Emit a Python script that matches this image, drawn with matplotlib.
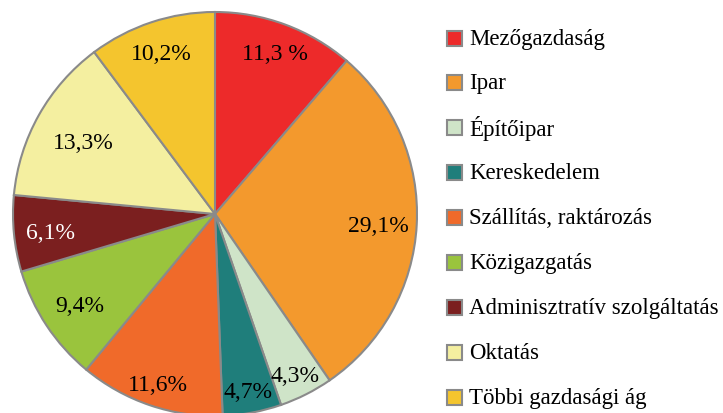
import numpy as np
import matplotlib.pyplot as plt
from matplotlib.patches import Rectangle

categories = [
    "Mezőgazdaság",
    "Ipar",
    "Építőipar",
    "Kereskedelem",
    "Szállítás, raktározás",
    "Közigazgatás",
    "Adminisztratív szolgáltatás",
    "Oktatás",
    "Többi gazdasági ág",
]
shares = [11.3, 29.1, 4.3, 4.7, 11.6, 9.4, 6.1, 13.3, 10.2]
pct_labels = ["11,3 %", "29,1%", "4,3%", "4,7%", "11,6%", "9,4%", "6,1%", "13,3%", "10,2%"]
colors = ["#ED2A2A", "#F3992D", "#CFE4C8", "#1F7E7B", "#F06A2A",
          "#9AC43D", "#7B1F1F", "#F4EFA0", "#F4C52E"]
label_colors = ["black"] * 6 + ["white"] + ["black"] * 2
# how far out each percentage sits, as a fraction of the radius
label_radius = [0.86, 0.81, 0.88, 0.88, 0.88, 0.80, 0.82, 0.75, 0.85]

plt.rcParams["font.family"] = ["Liberation Serif", "DejaVu Serif"]

W, H = 723, 414
fig = plt.figure(figsize=(W / 100, H / 100), dpi=100)

# pie centre (215, 215) px from top-left, radius 202 px
cx, cy, r = 215, 215, 202
half = r * 1.01
ax = fig.add_axes([(cx - half) / W, (H - cy - half) / H, 2 * half / W, 2 * half / H])
wedges, texts = ax.pie(
    shares,
    labels=pct_labels,
    colors=colors,
    startangle=90,
    counterclock=False,
    wedgeprops=dict(edgecolor="#8A8A8A", linewidth=1.5),
    textprops=dict(fontsize=17),
)
for w, t, c, d in zip(wedges, texts, label_colors, label_radius):
    ang = np.deg2rad((w.theta1 + w.theta2) / 2)
    t.set_position((d * np.cos(ang), d * np.sin(ang)))
    t.set_ha("center")
    t.set_va("center_baseline")
    t.set_color(c)
ax.set_xlim(-1.01, 1.01)
ax.set_ylim(-1.01, 1.01)
ax.set_aspect("equal")
ax.axis("off")

# legend
y0, step = 39, 44.9
for i, (name, col) in enumerate(zip(categories, colors)):
    y = y0 + i * step
    fig.add_artist(Rectangle((447 / W, (H - y - 7.5) / H), 15 / W, 15 / H,
                             transform=fig.transFigure, facecolor=col,
                             edgecolor="#8A8A8A", linewidth=1.5))
    fig.text(469 / W, (H - y) / H, name, fontsize=16.5, va="center", ha="left")

fig.savefig("out.png", dpi=100)
